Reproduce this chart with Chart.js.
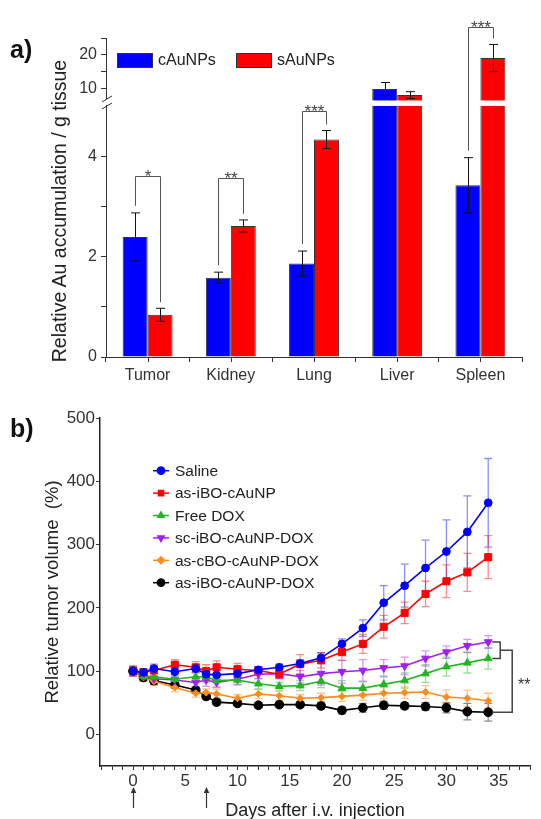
<!DOCTYPE html>
<html>
<head>
<meta charset="utf-8">
<script src="https://cdn.jsdelivr.net/npm/chart.js@4.4.1/dist/chart.umd.min.js"></script>
<style>
html,body{margin:0;padding:0;background:#fff;}
body{width:541px;height:819px;position:relative;overflow:hidden;font-family:"Liberation Sans",Arial,sans-serif;}
#wrapA{position:absolute;left:0;top:0;width:541px;height:395px;}
#wrapB{position:absolute;left:0;top:395px;width:541px;height:424px;}
.panel{position:absolute;left:10px;font-weight:bold;font-size:25px;line-height:24px;color:#111;}
#ytitleA{position:absolute;left:-141px;top:200px;width:400px;height:22px;line-height:22px;font-size:19.5px;text-align:center;color:#222;transform:rotate(-90deg);transform-origin:200px 11px;white-space:nowrap;}
</style>
</head>
<body>
<div id="wrapA"><canvas id="chartA" width="541" height="395"></canvas></div>
<div id="wrapB"><canvas id="chartB" width="541" height="424"></canvas></div>
<div class="panel" style="top:37px;">a)</div>
<div class="panel" style="top:416px;">b)</div>
<div id="ytitleA">Relative Au accumulation / g tissue</div>
<script>
// ---------------- data: panel a) ----------------
const organs = ['Tumor', 'Kidney', 'Lung', 'Liver', 'Spleen'];
const cAuNPs = [2.39, 1.58, 1.86, 10.0, 3.42];
const cAuNPsErr = [0.48, 0.11, 0.25, 1.9, 0.55];
const sAuNPs = [0.84, 2.61, 4.33, 8.2, 19.1];
const sAuNPsErr = [0.13, 0.12, 0.18, 1.0, 4.0];
const sigMarksA = ['*', '**', '***', '', '***'];
const sigTopA = [3.6, 3.56, 4.9, null, 28.3];
const yTicksA = [0, 1, 2, 3, 4, 10, 15, 20, 25];
const yLabelsA = [0, 2, 4, 10, 20];

// ---------------- data: panel b) ----------------
const days = [0, 1, 2, 4, 6, 7, 8, 10, 12, 14, 16, 18, 20, 22, 24, 26, 28, 30, 32, 34];
const saline    = [100, 98, 104, 99, 104, 95, 94, 96, 102, 106, 112, 121, 143, 168, 208, 235, 263, 289, 320, 366];
const salineErr = [8, 5, 7, 8, 6, 8, 7, 6, 5, 5, 6, 8, 8, 13, 27, 34, 44, 50, 57, 70];
const asIBO     = [100, 98, 101, 110, 106, 100, 106, 103, 101, 95, 111, 117, 130, 143, 170, 192, 222, 242, 256, 280];
const asIBOErr  = [8, 6, 8, 8, 9, 10, 10, 9, 6, 7, 15, 12, 13, 15, 18, 17, 20, 26, 30, 34];
const freeDOX   = [100, 92, 91, 87, 91, 91, 85, 86, 80, 76, 77, 84, 73, 73, 79, 85, 96, 107, 113, 120];
const freeDOXErr= [6, 6, 8, 9, 8, 9, 10, 8, 8, 6, 8, 10, 12, 10, 12, 12, 14, 15, 16, 17];
const scIBODOX  = [100, 92, 88, 86, 82, 86, 82, 87, 95, 96, 91, 96, 99, 101, 105, 108, 120, 130, 140, 146];
const scIBODOXErr=[6, 7, 9, 8, 8, 10, 8, 8, 7, 8, 10, 18, 18, 17, 13, 14, 12, 10, 10, 10];
const asCBODOX  = [100, 90, 84, 74, 65, 66, 64, 57, 64, 61, 57, 58, 60, 62, 65, 66, 67, 59, 57, 53];
const asCBODOXErr=[5, 6, 7, 7, 6, 6, 7, 6, 7, 7, 6, 7, 8, 8, 9, 9, 10, 11, 13, 12];
const asIBODOX  = [100, 90, 85, 78, 70, 60, 51, 49, 46, 47, 47, 45, 38, 42, 46, 45, 44, 42, 36, 35];
const asIBODOXErr=[5, 5, 6, 5, 5, 5, 4, 4, 4, 4, 4, 5, 5, 7, 6, 5, 6, 8, 13, 14];
const seriesNames = ['Saline', 'as-iBO-cAuNP', 'Free DOX', 'sc-iBO-cAuNP-DOX', 'as-cBO-cAuNP-DOX', 'as-iBO-cAuNP-DOX'];
const injectionDays = [0, 7];
const yTicksB = [0, 100, 200, 300, 400, 500];
const xLabelsB = [0, 5, 10, 15, 20, 25, 30, 35];
const xMinorB = Array.from({length: 42}, (_, i) => i - 3);

// ---------------- styling ----------------
const FONT = '"Liberation Sans", Arial, sans-serif';
Chart.defaults.font.family = FONT;
const AXIS = '#333';
const styleB = [
  {color: '#0000ff', err: 'rgba(0,0,255,0.45)',   style: 'circle',   r: 3.9, rot: 0},
  {color: '#ff0000', err: 'rgba(255,0,0,0.45)',   style: 'rect',     r: 5,   rot: 0},
  {color: '#22b522', err: 'rgba(34,181,34,0.45)', style: 'triangle', r: 4.5, rot: 0},
  {color: '#a020f0', err: 'rgba(160,32,240,0.45)',style: 'triangle', r: 4.5, rot: 180},
  {color: '#ff8c1a', err: 'rgba(255,140,26,0.5)', style: 'rectRot',  r: 3.5, rot: 0},
  {color: '#000000', err: 'rgba(0,0,0,0.45)',     style: 'circle',   r: 4.4, rot: 0}
];
const valuesB = [saline, asIBO, freeDOX, scIBODOX, asCBODOX, asIBODOX];
const errsB = [salineErr, asIBOErr, freeDOXErr, scIBODOXErr, asCBODOXErr, asIBODOXErr];

// ---------------- broken linear scale for panel a) ----------------
const BREAK_AT = 5;
const LOWER_SHARE = 0.787;
class BrokenLinearScale extends Chart.LinearScale {
  getPixelForValue(value) {
    if (value === null || value === undefined) return NaN;
    const bottom = this.bottom, h = this.bottom - this.top;
    const split = bottom - LOWER_SHARE * h;
    if (value <= BREAK_AT) return bottom - (value - this.min) / (BREAK_AT - this.min) * LOWER_SHARE * h;
    return split - (value - BREAK_AT) / (this.max - BREAK_AT) * (1 - LOWER_SHARE) * h;
  }
  getValueForPixel(pixel) {
    const bottom = this.bottom, h = this.bottom - this.top;
    const split = bottom - LOWER_SHARE * h;
    if (pixel >= split) return this.min + (bottom - pixel) / (LOWER_SHARE * h) * (BREAK_AT - this.min);
    return BREAK_AT + (split - pixel) / ((1 - LOWER_SHARE) * h) * (this.max - BREAK_AT);
  }
}
BrokenLinearScale.id = 'brokenLinear';
BrokenLinearScale.defaults = Chart.LinearScale.defaults;
Chart.register(BrokenLinearScale);

function drawMarker(ctx, style, r, rot, x, y) {
  if (Chart.helpers && Chart.helpers.drawPoint) {
    Chart.helpers.drawPoint(ctx, {pointStyle: style, radius: r, rotation: rot, borderWidth: 1}, x, y);
  } else {
    ctx.beginPath(); ctx.arc(x, y, r, 0, Math.PI * 2); ctx.fill();
  }
}

// ---------------- panel a) plugins ----------------
const panelAPlugin = {
  id: 'panelA',
  afterDatasetsDraw(chart) {
    const ctx = chart.ctx, ys = chart.scales.y, xs = chart.scales.x, ca = chart.chartArea;
    const m0 = chart.getDatasetMeta(0), m1 = chart.getDatasetMeta(1);
    const errs = [cAuNPsErr, sAuNPsErr];
    ctx.save();
    // error bars
    ctx.strokeStyle = '#111'; ctx.lineWidth = 1;
    [m0, m1].forEach((meta, d) => {
      const vals = chart.data.datasets[d].data;
      meta.data.forEach((el, i) => {
        const x = Math.round(el.x) + 0.5;
        const t = ys.getPixelForValue(vals[i] + errs[d][i]);
        const b = ys.getPixelForValue(vals[i] - errs[d][i]);
        ctx.beginPath();
        ctx.moveTo(x, t); ctx.lineTo(x, b);
        ctx.moveTo(x - 4.5, t); ctx.lineTo(x + 4.5, t);
        ctx.moveTo(x - 4.5, b); ctx.lineTo(x + 4.5, b);
        ctx.stroke();
      });
    });
    // axis break: white band through bars
    const yb = ys.getPixelForValue(BREAK_AT);
    ctx.fillStyle = '#fff';
    ctx.fillRect(ca.left + 1, yb - 5.5, ca.right - ca.left, 5.5);
    // axis break on y axis
    const ax = ca.left;
    ctx.fillRect(ax - 3, yb - 8, 6, 11);
    ctx.strokeStyle = AXIS; ctx.lineWidth = 1;
    ctx.beginPath();
    ctx.moveTo(ax - 4, yb - 4); ctx.lineTo(ax + 6, yb - 10);
    ctx.moveTo(ax - 4, yb + 3); ctx.lineTo(ax + 6, yb - 3);
    ctx.moveTo(ax + 0.5, yb - 10); ctx.lineTo(ax + 0.5, yb - 7);
    ctx.moveTo(ax + 0.5, yb - 1); ctx.lineTo(ax + 0.5, yb + 3);
    ctx.stroke();
    // category centre ticks
    ctx.beginPath();
    m0.data.forEach((el, i) => {
      const xc = Math.round(xs.getPixelForValue(i)) + 0.5;
      ctx.moveTo(xc, ca.bottom); ctx.lineTo(xc, ca.bottom + 5);
    });
    ctx.stroke();
    // significance brackets
    ctx.strokeStyle = '#555'; ctx.fillStyle = '#444';
    ctx.font = '17px ' + FONT; ctx.textAlign = 'center'; ctx.textBaseline = 'alphabetic';
    sigMarksA.forEach((mark, i) => {
      if (!mark) return;
      const xl = Math.round(m0.data[i].x) + 0.5, xr = Math.round(m1.data[i].x) + 0.5;
      const yt = Math.round(ys.getPixelForValue(sigTopA[i])) + 0.5;
      const yl = ys.getPixelForValue(cAuNPs[i] + cAuNPsErr[i]) - 7;
      const yr = ys.getPixelForValue(sAuNPs[i] + sAuNPsErr[i]) - 6;
      ctx.beginPath();
      ctx.moveTo(xl, yl); ctx.lineTo(xl, yt); ctx.lineTo(xr, yt); ctx.lineTo(xr, yr);
      ctx.stroke();
      ctx.fillText(mark, (xl + xr) / 2, yt + 5);
    });
    ctx.restore();
  },
  afterDraw(chart) {
    const ctx = chart.ctx, ca = chart.chartArea;
    ctx.save();
    ctx.font = '16px ' + FONT; ctx.textBaseline = 'middle'; ctx.textAlign = 'left';
    chart.data.datasets.forEach((ds, i) => {
      const bx = ca.left + 11 + i * 119, by = 53;
      ctx.fillStyle = ds.backgroundColor; ctx.fillRect(bx, by, 36, 15);
      ctx.strokeStyle = '#333'; ctx.lineWidth = 1; ctx.strokeRect(bx + 0.5, by + 0.5, 35, 14);
      ctx.fillStyle = '#222'; ctx.fillText(ds.label, bx + 41, by + 8);
    });
    ctx.restore();
  }
};

new Chart(document.getElementById('chartA'), {
  type: 'bar',
  data: {
    labels: organs,
    datasets: [
      {label: 'cAuNPs', data: cAuNPs, backgroundColor: '#0000ff', borderColor: '#333', borderWidth: 1, categoryPercentage: 0.6, barPercentage: 1.0},
      {label: 'sAuNPs', data: sAuNPs, backgroundColor: '#ff0000', borderColor: '#333', borderWidth: 1, categoryPercentage: 0.6, barPercentage: 1.0}
    ]
  },
  options: {
    responsive: false, animation: false, devicePixelRatio: 1,
    layout: {padding: {left: 0, right: 19, top: 38, bottom: 0}},
    plugins: {legend: {display: false}, tooltip: {enabled: false}},
    scales: {
      x: {
        grid: {display: true, drawOnChartArea: false, tickLength: 5, color: AXIS, offset: true},
        border: {display: true, color: AXIS, width: 1},
        ticks: {font: {size: 16}, color: '#333', padding: 4, maxRotation: 0},
        afterFit(s) { s.height = 38; }
      },
      y: {
        type: 'brokenLinear', min: 0, max: 25,
        afterBuildTicks(s) { s.ticks = yTicksA.map(v => ({value: v})); },
        ticks: {autoSkip: false, font: {size: 16}, color: '#333', padding: 4,
          callback: v => yLabelsA.includes(v) ? String(v) : ''},
        grid: {display: true, drawOnChartArea: false, tickLength: 5, color: AXIS},
        border: {display: true, color: AXIS, width: 1},
        afterFit(s) { s.width = 106; }
      }
    }
  },
  plugins: [panelAPlugin]
});

// ---------------- panel b) plugins ----------------
const panelBPlugin = {
  id: 'panelB',
  beforeDatasetsDraw(chart) {
    const ctx = chart.ctx, ys = chart.scales.y;
    ctx.save();
    ctx.lineWidth = 1.3;
    chart.data.datasets.forEach((ds, d) => {
      const meta = chart.getDatasetMeta(d);
      ctx.strokeStyle = styleB[d].err;
      meta.data.forEach((el, i) => {
        const x = el.x;
        const t = ys.getPixelForValue(valuesB[d][i] + errsB[d][i]);
        const b = ys.getPixelForValue(valuesB[d][i] - errsB[d][i]);
        ctx.beginPath();
        ctx.moveTo(x, t); ctx.lineTo(x, b);
        ctx.moveTo(x - 4, t); ctx.lineTo(x + 4, t);
        ctx.moveTo(x - 4, b); ctx.lineTo(x + 4, b);
        ctx.stroke();
      });
    });
    ctx.restore();
  },
  afterDraw(chart) {
    const ctx = chart.ctx, ca = chart.chartArea, xs = chart.scales.x, ys = chart.scales.y;
    ctx.save();
    // legend
    ctx.font = '15.5px ' + FONT; ctx.textBaseline = 'middle'; ctx.textAlign = 'left';
    chart.data.datasets.forEach((ds, i) => {
      const y = ca.top + 52.7 + i * 22.4;
      const x0 = ca.left + 53, x1 = ca.left + 69;
      ctx.strokeStyle = styleB[i].color; ctx.lineWidth = 1.5;
      ctx.beginPath(); ctx.moveTo(x0, y); ctx.lineTo(x1, y); ctx.stroke();
      ctx.fillStyle = styleB[i].color;
      drawMarker(ctx, styleB[i].style, Math.min(styleB[i].r, 3.6), styleB[i].rot, (x0 + x1) / 2, y);
      ctx.fillStyle = '#222';
      ctx.fillText(ds.label, ca.left + 75, y + 1);
    });
    // significance bracket
    const last = days.length - 1;
    const xp = xs.getPixelForValue(days[last]);
    const yPurple = ys.getPixelForValue(scIBODOX[last]);
    const yGreen = ys.getPixelForValue(freeDOX[last]);
    const yBlack = ys.getPixelForValue(asIBODOX[last]);
    const yMid = (yPurple + yGreen) / 2;
    ctx.strokeStyle = '#444'; ctx.lineWidth = 1.5;
    ctx.beginPath();
    ctx.moveTo(xp + 4, yPurple); ctx.lineTo(xp + 12, yPurple); ctx.lineTo(xp + 12, yGreen); ctx.lineTo(xp + 4, yGreen);
    ctx.moveTo(xp + 12, yMid); ctx.lineTo(xp + 24, yMid); ctx.lineTo(xp + 24, yBlack); ctx.lineTo(xp + 4, yBlack);
    ctx.stroke();
    ctx.fillStyle = '#333'; ctx.font = '16px ' + FONT; ctx.textAlign = 'center'; ctx.textBaseline = 'alphabetic';
    ctx.fillText('**', xp + 36, (yMid + yBlack) / 2 + 9);
    // injection arrows
    ctx.strokeStyle = '#333'; ctx.fillStyle = '#333'; ctx.lineWidth = 1.2;
    injectionDays.forEach(d => {
      const x = Math.round(xs.getPixelForValue(d)) + 0.5;
      const yTip = ca.bottom + 21, yEnd = ca.bottom + 42;
      ctx.beginPath(); ctx.moveTo(x, yEnd); ctx.lineTo(x, yTip + 4); ctx.stroke();
      ctx.beginPath(); ctx.moveTo(x, yTip); ctx.lineTo(x - 2.8, yTip + 6); ctx.lineTo(x + 2.8, yTip + 6); ctx.closePath(); ctx.fill();
    });
    ctx.restore();
  }
};

new Chart(document.getElementById('chartB'), {
  type: 'line',
  data: {
    datasets: valuesB.map((vals, d) => ({
      label: seriesNames[d],
      data: vals.map((v, i) => ({x: days[i], y: v})),
      borderColor: styleB[d].color,
      backgroundColor: styleB[d].color,
      pointBackgroundColor: styleB[d].color,
      pointBorderColor: styleB[d].color,
      pointStyle: styleB[d].style,
      pointRadius: styleB[d].r,
      pointRotation: styleB[d].rot,
      pointBorderWidth: 1,
      borderWidth: 1.6,
      tension: 0,
      fill: false
    }))
  },
  options: {
    responsive: false, animation: false, devicePixelRatio: 1,
    layout: {padding: {left: 0, right: 11, top: 23, bottom: 0}},
    plugins: {legend: {display: false}, tooltip: {enabled: false}},
    scales: {
      x: {
        type: 'linear', min: -3.16, max: 38,
        afterBuildTicks(s) { s.ticks = xMinorB.map(v => ({value: v})); },
        ticks: {autoSkip: false, maxRotation: 0, font: {size: 17}, color: '#333', padding: 1,
          callback: v => xLabelsB.includes(v) ? String(v) : ''},
        grid: {display: true, drawOnChartArea: false, tickLength: 4, color: '#333'},
        border: {display: true, color: '#222', width: 1.5},
        title: {display: true, text: 'Days after i.v. injection', font: {size: 18}, color: '#222', padding: {top: 0, bottom: -3}},
        afterFit(s) { s.height = 53; }
      },
      y: {
        min: -50, max: 500,
        afterBuildTicks(s) { s.ticks = yTicksB.map(v => ({value: v})); },
        ticks: {autoSkip: false, font: {size: 17}, color: '#333', padding: 1},
        grid: {display: true, drawOnChartArea: false, tickLength: 4, color: '#333'},
        border: {display: true, color: '#222', width: 1.5},
        title: {display: true, text: 'Relative tumor volume  (%)', font: {size: 18.5}, color: '#222', padding: {top: 42, bottom: 0}},
        afterFit(s) { s.width = 100; }
      }
    }
  },
  plugins: [panelBPlugin]
});
</script>
</body>
</html>
